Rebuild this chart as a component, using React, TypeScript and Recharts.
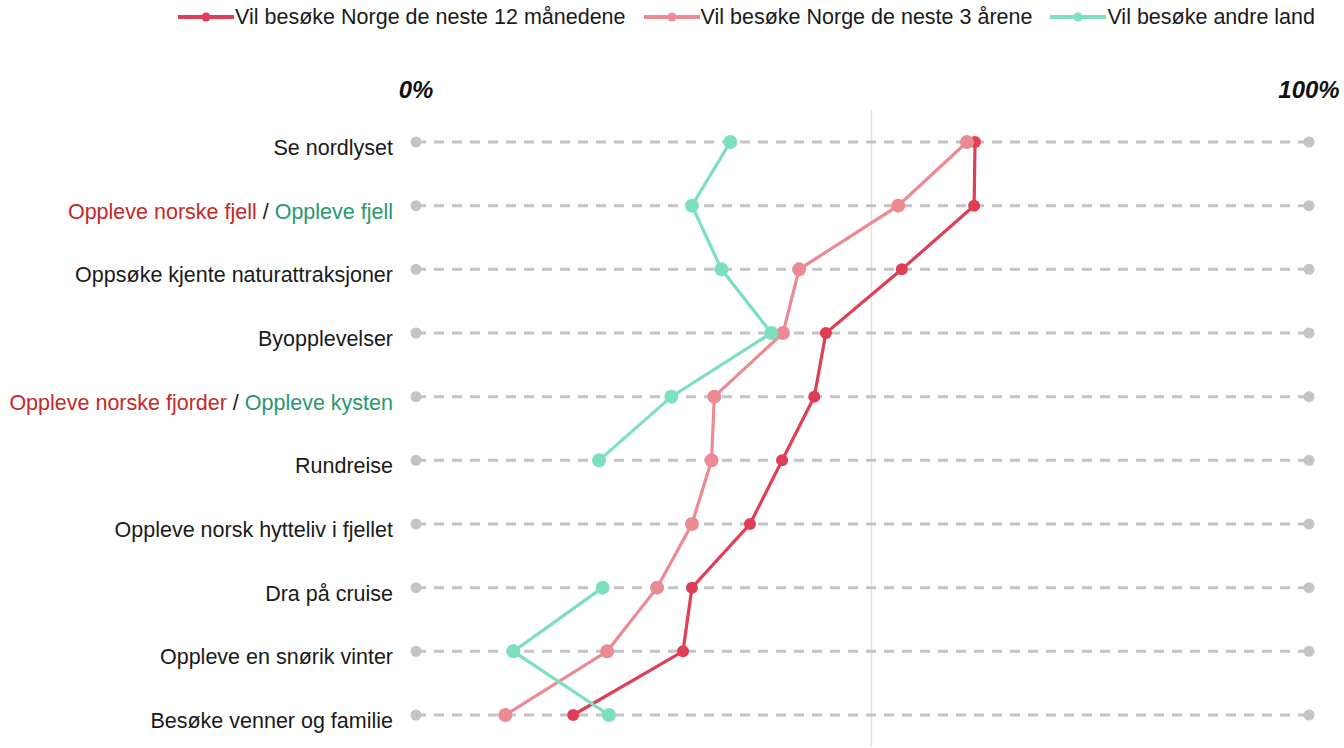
import React from 'react';
import { LineChart, Line, XAxis, YAxis, Legend, ReferenceLine, ReferenceDot } from 'recharts';

const CATEGORIES = [
    'Se nordlyset',
    'Oppleve norske fjell / Oppleve fjell',
    'Oppsøke kjente naturattraksjoner',
    'Byopplevelser',
    'Oppleve norske fjorder / Oppleve kysten',
    'Rundreise',
    'Oppleve norsk hytteliv i fjellet',
    'Dra på cruise',
    'Oppleve en snørik vinter',
    'Besøke venner og familie',
];

const NEXT_12_MONTHS = [62.6, 62.5, 54.4, 45.9, 44.6, 41.0, 37.4, 30.9, 29.9, 17.6];
const NEXT_3_YEARS = [61.7, 54.0, 42.9, 41.1, 33.4, 33.1, 30.9, 27.0, 21.4, 10.0];
const OTHER_COUNTRIES = [35.2, 30.9, 34.2, 39.8, 28.6, 20.5, null, 20.9, 10.9, 21.6];

const X_TICKS = [0, 100];
const MARKER_VALUE = 51;

const SERIES = [
    { key: 'next12', name: 'Vil besøke Norge de neste 12 månedene', color: '#e03e54', r: 6, values: NEXT_12_MONTHS },
    { key: 'next3', name: 'Vil besøke Norge de neste 3 årene', color: '#ec8a94', r: 7, values: NEXT_3_YEARS },
    { key: 'other', name: 'Vil besøke andre land', color: '#7ae0be', r: 7, values: OTHER_COUNTRIES },
];

const FONT = '"Liberation Sans", Arial, Helvetica, sans-serif';
const TEXT = '#1a1a1a';
const NORWAY_TEXT = '#c62828';
const OTHER_TEXT = '#2a966e';
const GUIDE = '#c4c4c4';

const data = CATEGORIES.map(category => ({ category }));

// vertical line charts skip null points instead of breaking the line,
// so each series is cut into runs of known values and drawn run by run
const toRuns = (values: (number | null)[]) => {
    const runs: { category: string; value: number }[][] = [];
    let current: { category: string; value: number }[] = [];
    values.forEach((v, i) => {
        if (v === null) {
            if (current.length) runs.push(current);
            current = [];
        } else {
            current.push({ category: CATEGORIES[i], value: v });
        }
    });
    if (current.length) runs.push(current);
    return runs;
};

const CategoryTick = (props: any) => {
    const { x, y, payload } = props;
    const parts = String(payload.value).split(' / ');
    return (
        <text x={x} y={y} dy={13} textAnchor="end" fontSize={21.5} fontFamily={FONT} style={{ whiteSpace: 'pre' }}>
            {parts.length === 2 ? (
                <>
                    <tspan fill={NORWAY_TEXT}>{parts[0]}</tspan>
                    <tspan fill={TEXT}>{' / '}</tspan>
                    <tspan fill={OTHER_TEXT}>{parts[1]}</tspan>
                </>
            ) : (
                <tspan fill={TEXT}>{parts[0]}</tspan>
            )}
        </text>
    );
};

const renderLegend = () => (
    <div style={{ display: 'flex', justifyContent: 'flex-end', alignItems: 'center', fontFamily: FONT, fontSize: 21.5, color: TEXT, lineHeight: '26px' }}>
        {SERIES.map(s => (
            <div key={s.key} style={{ display: 'flex', alignItems: 'center', marginLeft: 18 }}>
                <svg width={56} height={12}>
                    <line x1={0} y1={6} x2={56} y2={6} stroke={s.color} strokeWidth={4} />
                    <circle cx={28} cy={6} r={4.5} fill={s.color} />
                </svg>
                <span style={{ marginLeft: 1 }}>{s.name}</span>
            </div>
        ))}
    </div>
);

export default function App() {
    return (
        <div style={{ position: 'absolute', left: 0, top: 0, background: '#fff' }}>
            <LineChart width={1344} height={748} data={data} layout="vertical" margin={{ top: 70, right: 35, left: 0, bottom: 1 }}>
                <XAxis
                    type="number"
                    orientation="top"
                    domain={[0, 100]}
                    ticks={X_TICKS}
                    interval={0}
                    tickFormatter={(v: number) => `${v}%`}
                    axisLine={false}
                    tickLine={false}
                    tickSize={0}
                    tickMargin={12}
                    height={40}
                    tick={{ fontSize: 24, fontWeight: 700, fontStyle: 'italic', fill: '#111', fontFamily: FONT }}
                />
                <YAxis
                    type="category"
                    dataKey="category"
                    width={416}
                    interval={0}
                    allowDuplicatedCategory={false}
                    padding={{ top: 32, bottom: 32 }}
                    axisLine={false}
                    tickLine={false}
                    tickSize={0}
                    tickMargin={23}
                    tick={<CategoryTick />}
                />
                <Legend verticalAlign="middle" content={renderLegend} wrapperStyle={{ top: 4, left: 0, width: 1315 }} />
                <ReferenceLine x={MARKER_VALUE} stroke="#e2e2e2" strokeWidth={1.5} />
                {CATEGORIES.map(cat => (
                    <ReferenceLine
                        key={`guide-${cat}`}
                        segment={[{ x: 0, y: cat }, { x: 100, y: cat }]}
                        stroke={GUIDE}
                        strokeWidth={3}
                        strokeDasharray="10 8"
                    />
                ))}
                {CATEGORIES.map(cat => (
                    <ReferenceDot key={`l-${cat}`} x={0} y={cat} r={5.5} fill={GUIDE} stroke="none" />
                ))}
                {CATEGORIES.map(cat => (
                    <ReferenceDot key={`r-${cat}`} x={100} y={cat} r={5.5} fill={GUIDE} stroke="none" />
                ))}
                {SERIES.map(s =>
                    toRuns(s.values).map((run, j) => (
                        <Line
                            key={`${s.key}-${j}`}
                            data={run}
                            dataKey="value"
                            name={s.name}
                            stroke={s.color}
                            strokeWidth={3.2}
                            dot={{ r: s.r, fill: s.color, stroke: s.color, strokeWidth: 0 }}
                            activeDot={false}
                            isAnimationActive={false}
                        />
                    ))
                )}
            </LineChart>
        </div>
    );
}
